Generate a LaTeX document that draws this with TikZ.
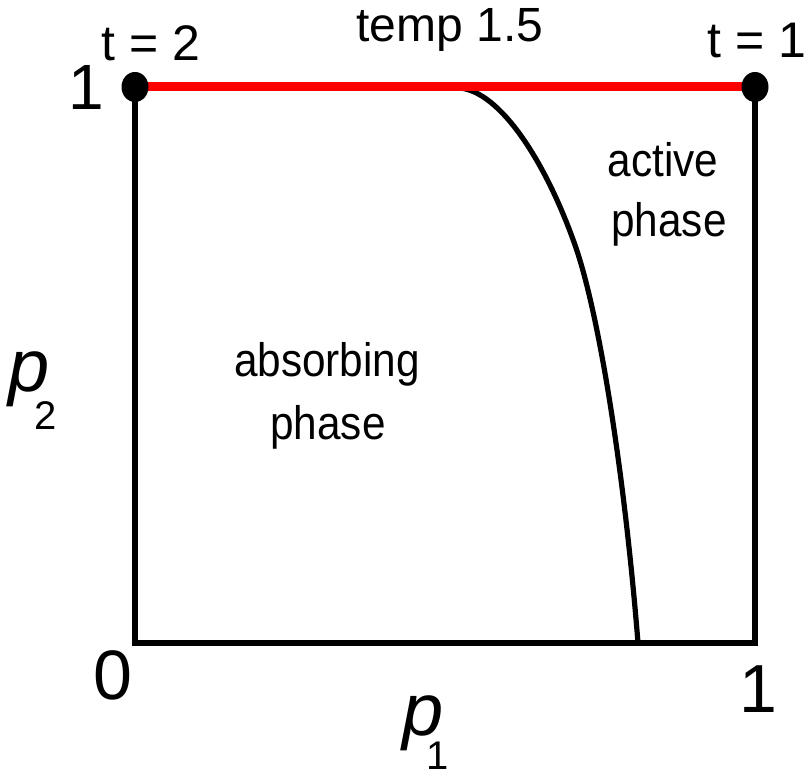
\documentclass[tikz,border=0pt]{standalone}
\usepackage{fontspec}
\setmainfont{Liberation Sans}
\newfontfamily\narrowsans{Liberation Sans}[FakeStretch=0.9]
\usetikzlibrary{shapes.geometric}
\begin{document}
\begin{tikzpicture}[x=0.5pt,y=-0.5pt,
  lbl/.style={inner sep=0pt, anchor=base},
  frame/.style={line width=3pt, line join=miter, line cap=rect},
  boundary/.style={line width=2.6pt},
  redline/.style={line width=4.5pt, red},
  dotmark/.style={ellipse, fill=black, inner sep=0pt, minimum width=13.5pt, minimum height=15pt}]
\useasboundingbox (0,0) rectangle (804,774);
\coordinate (tl) at (135,87);
\coordinate (tr) at (755,87);
\coordinate (bl) at (135,643);
\coordinate (br) at (755,643);
\coordinate (cs) at (460,88);
\coordinate (ce) at (638,643);
\draw[frame] (tl) -- (bl) -- (br) -- (tr);
\draw[boundary] (cs) .. controls (500,92) and (545,160) .. (575,245)
  .. controls (600,316) and (625,480) .. (ce);
\draw[redline] (tl) -- (tr);
\node[dotmark] (d1) at (tl) {};
\node[dotmark] (d2) at (tr) {};
% labels
\node[lbl] (t2) at (151,61) {\fontsize{25}{25}\selectfont t = 2};
\node[lbl] (temp) at (450,42) {\fontsize{24}{24}\selectfont temp 1.5};
\node[lbl] (t1) at (757,58) {\fontsize{25}{25}\selectfont t = 1};
\node[lbl] (y1) at (86,110) {\fontsize{32}{32}\selectfont 1};
\node[lbl] (x0) at (113,700) {\fontsize{35}{35}\selectfont 0};
\node[lbl] (x1) at (758,713) {\fontsize{34}{34}\selectfont 1};
\node[lbl] (abs1) at (327,377) {\narrowsans\fontsize{23.5}{23.5}\selectfont absorbing};
\node[lbl] (abs2) at (328,440) {\narrowsans\fontsize{23.5}{23.5}\selectfont phase};
\node[lbl] (act1) at (663,177) {\narrowsans\fontsize{23.5}{23.5}\selectfont active};
\node[lbl] (act2) at (669,237) {\narrowsans\fontsize{23.5}{23.5}\selectfont phase};
\node[lbl] (p2) at (29,392) {\fontsize{37}{37}\selectfont\itshape p};
\node[lbl] (p2s) at (46,430) {\fontsize{20}{20}\selectfont 2};
\node[lbl] (p1) at (423,736) {\fontsize{37}{37}\selectfont\itshape p};
\node[lbl] (p1s) at (438,770) {\fontsize{20}{20}\selectfont 1};
\end{tikzpicture}
\end{document}
